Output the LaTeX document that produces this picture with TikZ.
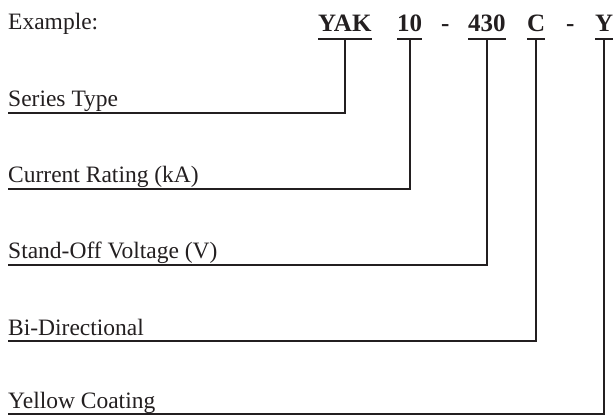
\documentclass[tikz,border=0pt]{standalone}
\usepackage{fontspec}
\setmainfont{Liberation Serif}
\definecolor{ink}{HTML}{231F20}
\begin{document}
\begin{tikzpicture}[x=1pt,y=-1pt,
  lbl/.style={anchor=base west,inner sep=0pt,font=\fontsize{23.5}{26}\selectfont,text=ink},
  code/.style={anchor=base west,inner sep=0pt,font=\fontsize{25}{28}\selectfont\bfseries,text=ink},
  ln/.style={line width=1.7pt,draw=ink}]
\useasboundingbox (0,0) rectangle (614,417);
\node[lbl] (ex) at (8,30) {Example:};
\node[code] (yak) at (318,32) {YAK};
\node[code] (ten) at (397,32) {10};
\node[code] (d1) at (441,32) {-};
\node[code] (v) at (468,32) {430};
\node[code] (c) at (527,32) {C};
\node[code] (d2) at (566,32) {-};
\node[code] (y) at (595,32) {Y};
\foreach \n in {yak,ten,v,c,y}{
  \draw[ln] ([yshift=-7pt]\n.base west) -- ([yshift=-7pt]\n.base east);
  \coordinate (\n u) at ([yshift=-7pt]\n.base);
}
\node[lbl] (l1) at (8,107) {Series Type};
\node[lbl] (l2) at (8,183) {Current Rating (kA)};
\node[lbl] (l3) at (8,259) {Stand-Off Voltage (V)};
\node[lbl] (l4) at (8,335) {Bi-Directional};
\node[lbl] (l5) at (8,408) {Yellow Coating};
\coordinate (e1) at (8,113);
\coordinate (e2) at (8,189);
\coordinate (e3) at (8,265);
\coordinate (e4) at (8,341);
\coordinate (e5) at (8,414);
\draw[ln] (yaku) |- (e1);
\draw[ln] (tenu) |- (e2);
\draw[ln] (vu) |- (e3);
\draw[ln] (cu) |- (e4);
\draw[ln] (yu) |- (e5);
\end{tikzpicture}
\end{document}
